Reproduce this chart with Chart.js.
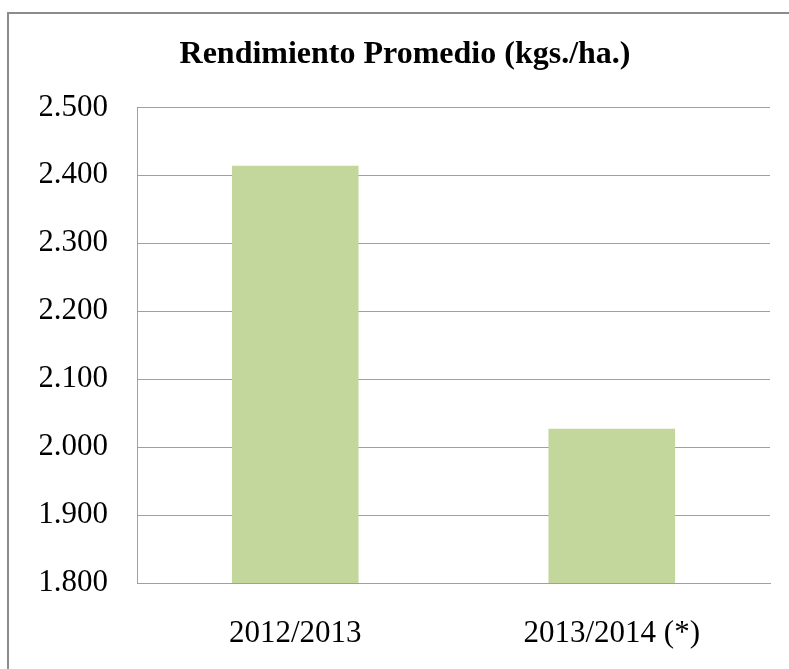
<!DOCTYPE html>
<html>
<head>
<meta charset="utf-8">
<script src="https://cdn.jsdelivr.net/npm/chart.js@4/dist/chart.umd.min.js"></script>
<style>
    html, body { margin: 0; padding: 0; background: #fff; overflow: hidden; }
    #frame {
        position: absolute; left: 7px; top: 12px;
        width: 820px; height: 720px;
        border: 2px solid #8c8c8c;
    }
    #data-chart { position: absolute; left: 0; top: 0; }
</style>
</head>
<body>
<div id="frame"></div>
<canvas id="data-chart" width="789" height="669"></canvas>
<script>
var categories = ['2012/2013', '2013/2014 (*)'];
var rendimiento = [2414, 2027];
var yMin = 1800;
var yMax = 2500;
var yStep = 100;

function puntoMiles(v) {
    return String(v).replace(/\B(?=(\d{3})+(?!\d))/g, '.');
}

var serif = "'Liberation Serif', 'Times New Roman', serif";
var ctx = document.getElementById('data-chart').getContext('2d');
new Chart(ctx, {
    type: 'bar',
    data: {
        labels: categories,
        datasets: [{
            label: 'Rendimiento Promedio',
            data: rendimiento,
            backgroundColor: '#c3d69b',
            borderWidth: 0,
            categoryPercentage: 1,
            barPercentage: 0.4
        }]
    },
    options: {
        responsive: false,
        animation: false,
        devicePixelRatio: 1,
        layout: { padding: { left: 40, right: 19, top: 0, bottom: 0 } },
        plugins: {
            legend: { display: false },
            tooltip: { enabled: false },
            title: {
                display: true,
                text: 'Rendimiento Promedio (kgs./ha.)',
                color: '#000',
                font: { family: serif, size: 32, weight: 'bold' },
                padding: { top: 36, bottom: 33 }
            }
        },
        scales: {
            x: {
                grid: { display: false },
                border: { display: true, color: '#a0a0a0', width: 1 },
                ticks: {
                    color: '#000',
                    font: { family: serif, size: 31 },
                    padding: 24
                },
                afterFit: function (scale) { scale.height = 86; }
            },
            y: {
                min: yMin,
                max: yMax,
                grid: { color: '#a0a0a0', lineWidth: 1, drawTicks: false },
                border: { display: true, color: '#a0a0a0', width: 1 },
                ticks: {
                    stepSize: yStep,
                    color: '#000',
                    font: { family: serif, size: 31 },
                    padding: 29,
                    callback: function (value) { return puntoMiles(value); }
                },
                afterFit: function (scale) { scale.width = 97; }
            }
        }
    }
});
</script>
</body>
</html>
